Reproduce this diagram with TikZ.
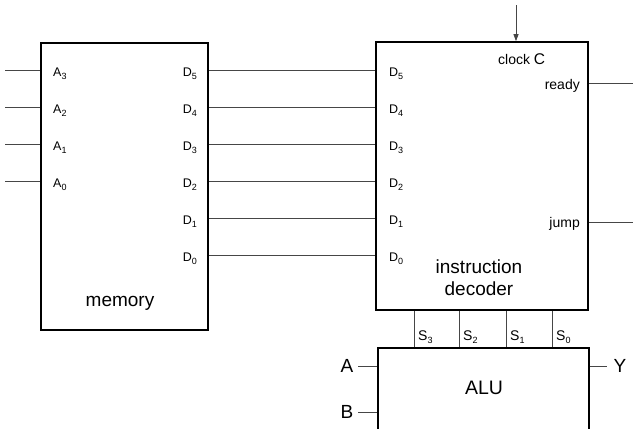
\documentclass[tikz,border=0pt]{standalone}
\usepackage{fontspec}
\setmainfont{Liberation Sans}
\usetikzlibrary{calc,arrows.meta}
\definecolor{wireGray}{RGB}{70,70,70}
\newcommand{\Sig}[2]{#1\raisebox{-0.45ex}{\fontsize{9}{10}\selectfont #2}}
\tikzset{
  block/.style={draw,line width=1.6pt,inner sep=0pt},
  wire/.style={draw=wireGray,line width=0.8pt},
  pinlbl/.style={inner sep=0pt,font=\fontsize{12.5}{14}\selectfont},
  bigtxt/.style={inner sep=0pt,font=\fontsize{19}{22}\selectfont,align=center}
}

\begin{document}
\begin{tikzpicture}[x=1pt,y=-1pt]
\useasboundingbox (0,0) rectangle (633,429);
\clip (0,0) rectangle (633,429);
% blocks
\node[block,minimum width=167pt,minimum height=287pt] (mem) at (124.5,186.5) {};
\node[block,minimum width=212pt,minimum height=268pt] (dec) at (482,176) {};
\node[block,minimum width=211pt,minimum height=120pt,anchor=north west] (alu) at (377,347) {};
\node[bigtxt] (memtxt) at (120,303) {memory};
\node[bigtxt] (dectxt) at (479,278) {instruction\\decoder};
\node[bigtxt,font=\fontsize{19.5}{22}\selectfont] (alutxt) at (484,388) {ALU};
% memory address inputs
\foreach \i in {0,...,3}{
  \coordinate (a\i) at (5,{70+37*(3-\i)});
  \draw[wire] (a\i) -- (a\i -| mem.west);
  \node[pinlbl,anchor=west] (al\i) at (53,{74+37*(3-\i)}) {\Sig{A}{\i}};
}
% data bus memory -> decoder
\foreach \i in {0,...,5}{
  \coordinate (d\i) at (300,{70+37*(5-\i)});
  \draw[wire] (d\i -| mem.east) -- (d\i -| dec.west);
  \node[pinlbl,anchor=east] (md\i) at (197,{74+37*(5-\i)}) {\Sig{D}{\i}};
  \node[pinlbl,anchor=west] (dd\i) at (389,{74+37*(5-\i)}) {\Sig{D}{\i}};
}
% clock, ready, jump
\coordinate (clk) at (516,5);
\draw[wire,-{Triangle[length=7pt,width=5pt]}] (clk) -- (clk |- dec.north);
\node[inner sep=0pt,anchor=west] (clktxt) at (498,59) {\fontsize{14}{16}\selectfont clock \fontsize{15.5}{16}\selectfont C};
\coordinate (rdy) at (633,83);
\coordinate (jmp) at (633,222);
\draw[wire] (rdy -| dec.east) -- (rdy);
\draw[wire] (jmp -| dec.east) -- (jmp);
\node[pinlbl,font=\fontsize{14}{16}\selectfont,anchor=east] (rdytxt) at (580,86) {ready};
\node[pinlbl,font=\fontsize{14}{16}\selectfont,anchor=east] (jmptxt) at (580,224) {jump};
% select lines decoder -> ALU
\foreach \i/\xs in {3/414,2/459,1/506,0/552}{
  \coordinate (s\i) at (\xs,330);
  \draw[wire] (s\i |- dec.south) -- (s\i |- alu.north);
  \node[pinlbl,font=\fontsize{14}{16}\selectfont,anchor=west] (sl\i) at ({\xs+4},337) {\Sig{S}{\i}};
}
% ALU operands and result
\node[bigtxt] (atxt) at (347,366) {A};
\node[bigtxt] (btxt) at (347,412) {B};
\node[bigtxt] (ytxt) at (620,366) {Y};
\draw[wire] (358,366) -- (atxt -| alu.west);
\draw[wire] (358,412) -- (btxt -| alu.west);
\draw[wire] (ytxt -| alu.east) -- (607,366);
\end{tikzpicture}
\end{document}
